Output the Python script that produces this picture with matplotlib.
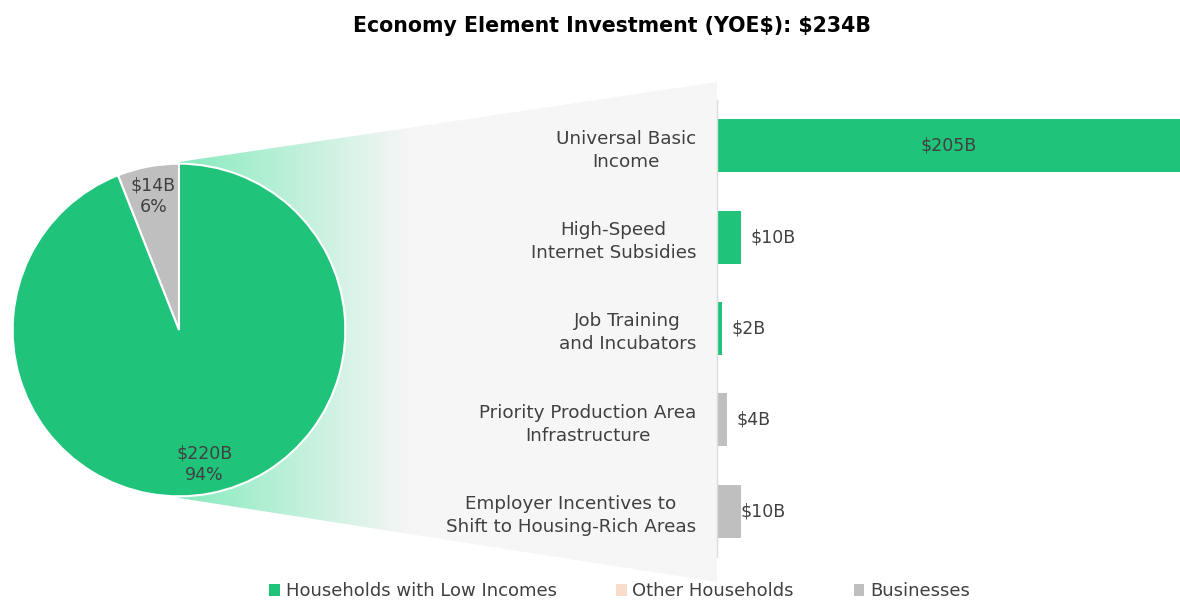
import numpy as np
import matplotlib
matplotlib.use("Agg")
import matplotlib.pyplot as plt
from matplotlib.patches import Polygon, Patch

plt.rcParams['font.family'] = ['DejaVu Sans']
plt.rcParams['text.parse_math'] = False

# ---- data ----
title = "Economy Element Investment (YOE$): $234B"
pie_groups = ["Businesses", "Households with Low Incomes"]
pie_values = [14, 220]
categories = ["Universal Basic\nIncome",
              "High-Speed\nInternet Subsidies",
              "Job Training\nand Incubators",
              "Priority Production Area\nInfrastructure",
              "Employer Incentives to\nShift to Housing-Rich Areas"]
bar_values = [205, 10, 2, 4, 10]
bar_groups = ["Households with Low Incomes", "Households with Low Incomes",
              "Households with Low Incomes", "Businesses", "Businesses"]
legend_labels = ["Households with Low Incomes", "Other Households", "Businesses"]

GREEN = "#20c37a"
PEACH = "#f9dccb"
GRAY = "#bfbfbf"
TXT = "#404040"
colors = {"Households with Low Incomes": GREEN, "Other Households": PEACH, "Businesses": GRAY}

W, H = 1180, 601
fig = plt.figure(figsize=(W / 100, H / 100), dpi=100)

# ---- background connector with gradient ----
ax_bg = fig.add_axes([0, 0, 1, 1])
ax_bg.set_xlim(0, W)
ax_bg.set_ylim(H, 0)
ax_bg.axis("off")
c0 = np.array([0x86, 0xeb, 0xbd]) / 255.0
c1 = np.array([0xf6, 0xf6, 0xf6]) / 255.0
xs = np.arange(W) + 0.5
t = np.clip((xs - 179) / (410 - 179), 0, 1)[:, None]
row = c0 * (1 - t) + c1 * t
img = np.repeat(row[None, :, :], H, axis=0)
poly = Polygon([(179, 162), (717, 82), (717, 582), (179, 498)], closed=True,
               facecolor="none", edgecolor="none", transform=ax_bg.transData)
ax_bg.add_patch(poly)
im = ax_bg.imshow(img, extent=[0, W, H, 0], aspect="auto", interpolation="nearest")
im.set_clip_path(poly)

# ---- pie ----
cx, cy, r = 179, 330, 168
ax_pie = fig.add_axes([(cx - r) / W, (H - cy - r) / H, 2 * r / W, 2 * r / H])
total = sum(pie_values)
wedges, _, autotexts = ax_pie.pie(
    pie_values, colors=[colors[g] for g in pie_groups], startangle=90, counterclock=True,
    autopct=lambda p: "${:.0f}B\n{:.0f}%".format(p * total / 100, p),
    pctdistance=0.82, wedgeprops=dict(edgecolor="white", linewidth=1.5),
    textprops=dict(color=TXT, fontsize=12.5, linespacing=1.25))
ax_pie.set_xlim(-1.01, 1.01)
ax_pie.set_ylim(-1.01, 1.01)
ax_pie.set_aspect("equal")

# ---- bars ----
bx0, by0, by1 = 717, 100, 557
ax_bar = fig.add_axes([bx0 / W, (H - by1) / H, (W - bx0) / W, (by1 - by0) / H])
ax_bar.patch.set_alpha(0)
y = np.arange(len(categories))
bars = ax_bar.barh(y, bar_values, height=0.58, color=[colors[g] for g in bar_groups])
ax_bar.set_ylim(len(categories) - 0.5, -0.5)
ax_bar.set_xlim(0, 193)
ax_bar.set_yticks(y)
ax_bar.set_yticklabels(categories, fontsize=13.2, color=TXT, multialignment="center",
                       linespacing=1.35)
ax_bar.tick_params(axis="y", length=0, pad=15)
ax_bar.set_xticks([])
for s in ["top", "right", "bottom"]:
    ax_bar.spines[s].set_visible(False)
ax_bar.spines["left"].set_color("#dcdcdc")
ax_bar.spines["left"].set_linewidth(1)

offsets = [None, 10, 10, 10, 0]
for i, v in enumerate(bar_values):
    lab = "${}B".format(v)
    if offsets[i] is None:
        ax_bar.text(193 / 2, i, lab, ha="center", va="center", fontsize=12.5, color=TXT)
    else:
        ax_bar.annotate(lab, (v, i), xytext=(offsets[i] * 0.72, 0), textcoords="offset points",
                        ha="left", va="center", fontsize=12.5, color=TXT)

# ---- title ----
fig.text(612 / W, 1 - 26 / H, title, ha="center", va="center", fontsize=14.8,
         fontweight="bold", color="black")

# ---- legend ----
handles = [Patch(facecolor=colors[l], edgecolor="none") for l in legend_labels]
fig.legend(handles, legend_labels, loc="center", bbox_to_anchor=(0.525, 0.016), ncol=3,
           frameon=False, fontsize=13, handlelength=0.6, handleheight=0.6,
           handletextpad=0.3, columnspacing=3.3, labelcolor=TXT)

fig.savefig("out.png", dpi=100)
